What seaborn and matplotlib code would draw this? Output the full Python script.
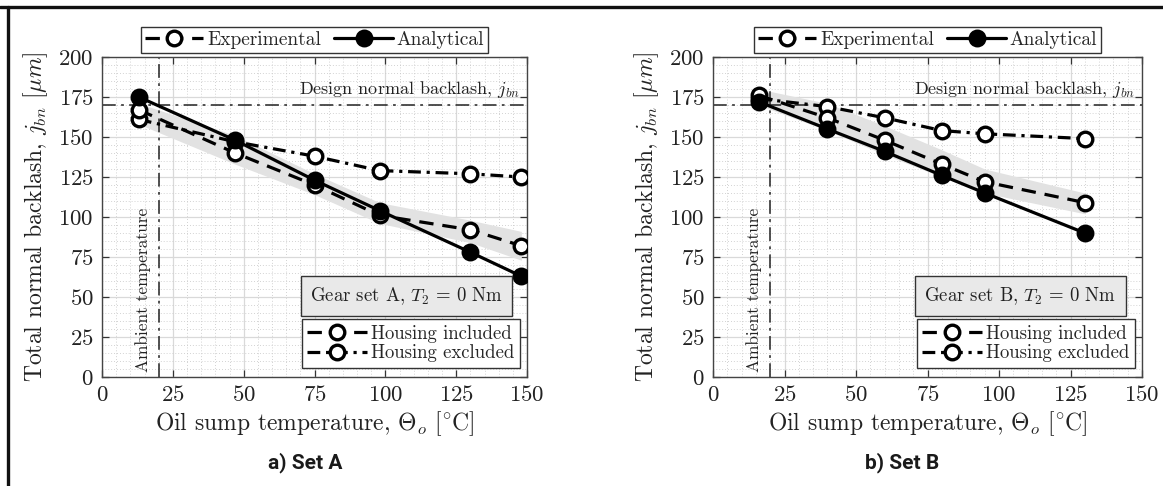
import numpy as np
import pandas as pd
import matplotlib
matplotlib.use("Agg")
import matplotlib.pyplot as plt
from matplotlib.lines import Line2D
from matplotlib.ticker import MultipleLocator
import seaborn as sns

# ---------------- data ----------------
A_temp = [13, 47, 75, 98, 130, 148]
A_analytical = [175, 148, 123, 104, 78, 63]
A_included = [167, 140, 120, 101, 92, 82]
A_excluded = [161, 147, 138, 129, 127, 125]
A_band_lo = [158, 133, 114, 96, 84, 73]
A_band_hi = [171, 151, 127, 109, 98, 91]

B_temp = [16, 40, 60, 80, 95, 130]
B_analytical = [172, 155, 141, 126, 115, 90]
B_included = [176, 162, 148, 133, 122, 109]
B_excluded = [174, 169, 162, 154, 152, 149]
B_band_lo = [170, 154, 139, 125, 115, 102]
B_band_hi = [180, 171, 157, 142, 130, 115]

design_backlash = 170
ambient_temp = 20
x_ticks = [0, 25, 50, 75, 100, 125, 150]
y_ticks = [0, 25, 50, 75, 100, 125, 150, 175, 200]

panels = [
    dict(temp=A_temp, ana=A_analytical, inc=A_included, exc=A_excluded,
         lo=A_band_lo, hi=A_band_hi, gear="A", sub="a) Set A"),
    dict(temp=B_temp, ana=B_analytical, inc=B_included, exc=B_excluded,
         lo=B_band_lo, hi=B_band_hi, gear="B", sub="b) Set B"),
]

# ---------------- style ----------------
sns.set_theme(style="ticks")
plt.rcParams["font.family"] = ["cmr10", "DejaVu Serif"]
plt.rcParams["mathtext.fontset"] = "cm"
plt.rcParams["axes.formatter.use_mathtext"] = True
plt.rcParams["axes.unicode_minus"] = False

fig = plt.figure(figsize=(11.63, 4.86), dpi=100)
W, H = 1163, 486

axes_px = [(102, 527), (713, 1142)]
top_px, bot_px = 57, 377
sub_centers = [305, 902]

DASH = (0, (4.5, 2.8))
DASHDOT = (0, (4, 1.8, 1.0, 1.8))
REFLS = (0, (9, 3.5, 1.8, 3.5))
lw = 2.3
ms = 10.5
mew = 2.4

for p, (xl, xr), sc in zip(panels, axes_px, sub_centers):
    ax = fig.add_axes([xl / W, (H - bot_px) / H, (xr - xl) / W, (bot_px - top_px) / H])
    ax.set_xlim(0, 150)
    ax.set_ylim(0, 200)

    # grid
    ax.xaxis.set_minor_locator(MultipleLocator(5))
    ax.yaxis.set_minor_locator(MultipleLocator(5))
    ax.grid(which="major", color="#d9d9d9", lw=0.9, ls="-")
    ax.grid(which="minor", color="#c4c4c4", lw=0.6, ls=(0, (1, 2.5)))
    ax.set_axisbelow(True)

    # band
    ax.fill_between(p["temp"], p["lo"], p["hi"], color="#e2e2e2", lw=0, zorder=1)

    # reference lines
    ax.axhline(design_backlash, color="#222222", lw=1.1, ls=REFLS, zorder=2)
    ax.axvline(ambient_temp, color="#222222", lw=1.1, ls=REFLS, zorder=2)

    df = pd.DataFrame({"T": p["temp"], "ana": p["ana"], "inc": p["inc"], "exc": p["exc"]})
    sns.lineplot(data=df, x="T", y="exc", ax=ax, color="black", lw=lw, linestyle=DASHDOT,
                 marker="o", markersize=ms, markerfacecolor="white", markeredgecolor="black",
                 markeredgewidth=mew, zorder=3)
    sns.lineplot(data=df, x="T", y="inc", ax=ax, color="black", lw=lw, linestyle=DASH,
                 marker="o", markersize=ms, markerfacecolor="white", markeredgecolor="black",
                 markeredgewidth=mew, zorder=4)
    sns.lineplot(data=df, x="T", y="ana", ax=ax, color="black", lw=lw, linestyle="-",
                 marker="o", markersize=ms, markerfacecolor="black", markeredgecolor="black",
                 markeredgewidth=mew, zorder=5)

    ax.set_xticks(x_ticks)
    ax.set_yticks(y_ticks)
    ax.tick_params(which="major", direction="in", top=True, right=True, length=5,
                   width=0.9, labelsize=16.5, colors="#333333", labelcolor="#222222", pad=6)
    ax.tick_params(which="minor", length=0, top=True, right=True)
    for s in ax.spines.values():
        s.set_color("#444444")
        s.set_linewidth(1.0)

    ax.set_xlabel(r"Oil sump temperature, $\Theta_o$ $[^{\circ}\mathrm{C}]$", fontsize=17,
                  color="#222222", labelpad=3)
    ax.set_ylabel(r"Total normal backlash, $j_{bn}$ $[\mu m]$", fontsize=17,
                  color="#222222", labelpad=6)

    ax.text(147.5, 180, r"Design normal backlash, $j_{bn}$", ha="right", va="center",
            fontsize=13, color="#222222", zorder=6)
    ax.text(14.5, 3, "Ambient temperature", rotation=90, ha="center", va="bottom",
            fontsize=12.5, color="#222222", zorder=6)
    ax.text(107.5, 50.5, r"Gear set %s, $T_2\,=\,0$ Nm" % p["gear"], ha="center", va="center",
            fontsize=13.5, color="#222222", zorder=7,
            bbox=dict(boxstyle="square,pad=0.5", facecolor="#e9e9e9",
                      edgecolor="#333333", lw=1.0))

    # legends
    h_exp = Line2D([], [], color="black", lw=lw, linestyle=DASH, marker="o", markersize=ms,
                   markerfacecolor="white", markeredgecolor="black", markeredgewidth=mew)
    h_ana = Line2D([], [], color="black", lw=lw, linestyle="-", marker="o", markersize=ms,
                   markerfacecolor="black", markeredgecolor="black", markeredgewidth=mew)
    leg1 = ax.legend([h_exp, h_ana], ["Experimental", "Analytical"], ncol=2,
                     loc="lower center", bbox_to_anchor=(0.5, 1.0), borderaxespad=0.2,
                     fontsize=14, frameon=True, fancybox=False, edgecolor="#333333",
                     framealpha=1, handlelength=3.0, columnspacing=0.7, handletextpad=0.2,
                     borderpad=0.2)
    leg1.get_frame().set_linewidth(1.0)
    ax.add_artist(leg1)

    h_inc = Line2D([], [], color="black", lw=lw, linestyle=DASH, marker="o", markersize=ms,
                   markerfacecolor="white", markeredgecolor="black", markeredgewidth=mew)
    h_exc = Line2D([], [], color="black", lw=lw, linestyle=DASHDOT, marker="o", markersize=ms,
                   markerfacecolor="white", markeredgecolor="black", markeredgewidth=mew)
    leg2 = ax.legend([h_inc, h_exc], ["Housing included", "Housing excluded"],
                     loc="lower right", bbox_to_anchor=(1 - 7 / 425, 9 / 320), borderaxespad=0,
                     fontsize=13.5, frameon=True, fancybox=False, edgecolor="#333333",
                     framealpha=1, handlelength=3.2, handletextpad=0.2, borderpad=0.3,
                     labelspacing=0.1)
    leg2.get_frame().set_linewidth(1.0)
    leg2.set_zorder(8)

    fig.text(sc / W, 1 - 463 / H, p["sub"], ha="center", va="center", fontsize=15,
             fontweight="bold", fontstretch="condensed",
             family=["Liberation Sans Narrow", "Roboto", "DejaVu Sans"],
             color="#1a1a1a")

# figure frame (top and left rules)
fig.add_artist(Line2D([0, 1], [1 - 7 / H, 1 - 7 / H], transform=fig.transFigure,
                      color="#111111", lw=2.4))
fig.add_artist(Line2D([8 / W, 8 / W], [0, 1 - 7 / H], transform=fig.transFigure,
                      color="#111111", lw=2.4))

fig.savefig("out.png", dpi=100, facecolor="white")
